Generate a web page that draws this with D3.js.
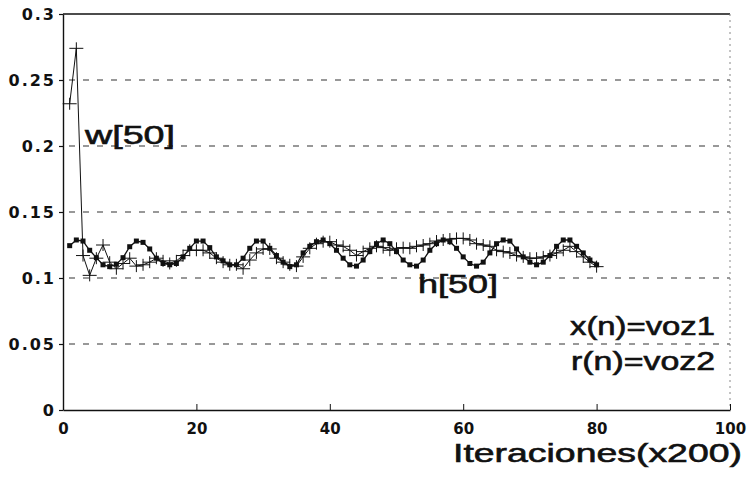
<!DOCTYPE html>
<html>
<head>
<meta charset="utf-8">
<script src="https://d3js.org/d3.v7.min.js"></script>
<style>
  body { margin: 0; background: #fff; }
  svg { display: block; }
</style>
</head>
<body>
<div id="chart"></div>
<script>
// tick values
var xTicks = [0, 20, 40, 60, 80, 100];
var yTicks = [0, 0.05, 0.1, 0.15, 0.2, 0.25, 0.3];
var yTickLabels = ["0", "0.05", "0.1", "0.15", "0.2", "0.25", "0.3"];

// iteration index (x200)
var iterW = d3.range(1, 81);
var iterH = d3.range(1, 81);

// w[50] (crosses)
var wValues = [0.232, 0.274, 0.117, 0.102, 0.115, 0.125, 0.112, 0.107, 0.111, 0.115,
  0.109, 0.110, 0.112, 0.115, 0.113, 0.111, 0.113, 0.117, 0.121, 0.121,
  0.121, 0.119, 0.115, 0.112, 0.110, 0.110, 0.107, 0.1136, 0.119, 0.122,
  0.122, 0.115, 0.112, 0.110, 0.109, 0.116, 0.1225, 0.126, 0.1275, 0.1275,
  0.125, 0.124, 0.121, 0.117, 0.120, 0.1225, 0.124, 0.123, 0.121, 0.1225,
  0.123, 0.1225, 0.124, 0.125, 0.126, 0.128, 0.1288, 0.1295, 0.130, 0.130,
  0.1288, 0.126, 0.125, 0.124, 0.121, 0.120, 0.119, 0.117, 0.116, 0.115,
  0.115, 0.116, 0.117, 0.119, 0.121, 0.124, 0.120, 0.116, 0.112, 0.1086];

// h[50] (filled squares)
var hValues = [0.1245, 0.1288, 0.128, 0.121, 0.1154, 0.110, 0.1086, 0.1104, 0.1154, 0.1237,
  0.128, 0.127, 0.122, 0.115, 0.111, 0.110, 0.111, 0.116, 0.1225, 0.128,
  0.128, 0.123, 0.116, 0.113, 0.110, 0.110, 0.115, 0.1225, 0.128, 0.128,
  0.1225, 0.117, 0.112, 0.1086, 0.110, 0.119, 0.124, 0.1275, 0.1288, 0.126,
  0.121, 0.115, 0.110, 0.109, 0.1136, 0.120, 0.126, 0.1288, 0.126, 0.120,
  0.1136, 0.110, 0.109, 0.1136, 0.121, 0.126, 0.1288, 0.1275, 0.1225, 0.116,
  0.111, 0.109, 0.112, 0.119, 0.126, 0.1288, 0.128, 0.122, 0.116, 0.112,
  0.110, 0.112, 0.117, 0.124, 0.1288, 0.1288, 0.124, 0.119, 0.1136, 0.110];

var width = 748, height = 477;
var margin = { top: 14, right: 18, bottom: 67, left: 63 };

var svg = d3.select("#chart").append("svg")
  .attr("width", width)
  .attr("height", height);

var x = d3.scaleLinear().domain([0, 100]).range([margin.left, width - margin.right]);
var y = d3.scaleLinear().domain([0, 0.3]).range([height - margin.bottom, margin.top]);

// dashed grid
svg.append("g")
  .selectAll("line")
  .data(yTicks.slice(1, 6))
  .join("line")
  .attr("x1", x(0) + 6)
  .attr("x2", x(100))
  .attr("y1", function (d) { return y(d); })
  .attr("y2", function (d) { return y(d); })
  .style("stroke", "#333")
  .style("stroke-width", 1.1)
  .style("stroke-dasharray", "6,8");

// frame: top solid, right dotted
svg.append("line")
  .attr("x1", x(0)).attr("x2", x(100))
  .attr("y1", y(0.3)).attr("y2", y(0.3))
  .style("stroke", "#111").style("stroke-width", 1.6);
svg.append("line")
  .attr("x1", x(100)).attr("x2", x(100))
  .attr("y1", y(0.3)).attr("y2", y(0))
  .style("stroke", "#888").style("stroke-width", 1)
  .style("stroke-dasharray", "2,4");

var tickFont = "'DejaVu Sans', sans-serif";

// y axis
var yAxis = d3.axisLeft(y)
  .tickValues(yTicks)
  .tickFormat(function (d, i) { return yTickLabels[i]; })
  .tickSizeInner(4)
  .tickSizeOuter(0)
  .tickPadding(6);

var gy = svg.append("g")
  .attr("transform", "translate(" + x(0) + ",0)")
  .call(yAxis);
gy.select(".domain").style("stroke", "#111").style("stroke-width", 1.4);
gy.selectAll("line").style("stroke", "#111").style("stroke-width", 1.2);
gy.selectAll("text")
  .attr("x", -7)
  .style("font-family", tickFont)
  .style("font-weight", "bold")
  .style("font-size", "16px")
  .style("letter-spacing", "2px")
  .style("fill", "#111");

// x axis
var xAxis = d3.axisBottom(x)
  .tickValues(xTicks)
  .tickSizeInner(-6)
  .tickSizeOuter(0)
  .tickPadding(0);

var gx = svg.append("g")
  .attr("transform", "translate(0," + y(0) + ")")
  .call(xAxis);
gx.select(".domain").style("stroke", "#111").style("stroke-width", 1.6);
gx.selectAll("line").style("stroke", "#111").style("stroke-width", 1);
gx.selectAll("text")
  .attr("y", 13)
  .style("font-family", tickFont)
  .style("font-weight", "bold")
  .style("font-size", "15px")
  .style("fill", "#111");

// lines
var wData = iterW.map(function (d, i) { return [d, wValues[i]]; });
var hData = iterH.map(function (d, i) { return [d, hValues[i]]; });

var line = d3.line()
  .x(function (d) { return x(d[0]); })
  .y(function (d) { return y(d[1]); });

svg.append("path")
  .datum(hData)
  .attr("d", line)
  .style("fill", "none")
  .style("stroke", "#111")
  .style("stroke-width", 1.3);

svg.append("path")
  .datum(wData)
  .attr("d", line)
  .style("fill", "none")
  .style("stroke", "#111")
  .style("stroke-width", 1);

// square markers
svg.append("g")
  .selectAll("rect")
  .data(hData)
  .join("rect")
  .attr("x", function (d) { return x(d[0]) - 2.5; })
  .attr("y", function (d) { return y(d[1]) - 2.5; })
  .attr("width", 5)
  .attr("height", 5)
  .style("fill", "#111");

// cross markers
svg.append("g")
  .selectAll("path")
  .data(wData)
  .join("path")
  .attr("transform", function (d) { return "translate(" + x(d[0]) + "," + y(d[1]) + ")"; })
  .attr("d", "M-7,0H7M0,-6V6")
  .style("stroke", "#111")
  .style("stroke-width", 1);

// labels
function label(txt, px, py, size, len) {
  svg.append("text")
    .attr("x", px)
    .attr("y", py)
    .attr("textLength", len)
    .attr("lengthAdjust", "spacingAndGlyphs")
    .style("font-family", "'Liberation Sans', Arial, sans-serif")
    .style("font-size", size + "px")
    .style("fill", "#111")
    .style("stroke", "#111")
    .style("stroke-width", 0.6)
    .text(txt);
}

label("w[50]", 85, 144, 26, 90);
label("h[50]", 418, 293, 25, 80);
label("x(n)=voz1", 570, 335, 25, 145);
label("r(n)=voz2", 571, 370, 25, 144);
label("Iteraciones(x200)", 453, 462, 26, 289);
</script>
</body>
</html>
